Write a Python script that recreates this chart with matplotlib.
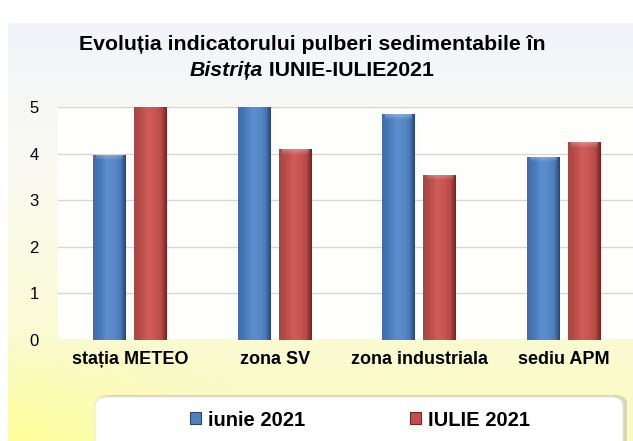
import numpy as np
import matplotlib
matplotlib.use("Agg")
import matplotlib.pyplot as plt
from matplotlib.patches import FancyBboxPatch, Rectangle
from matplotlib.colors import LinearSegmentedColormap, to_rgb

plt.rcParams['font.family'] = ['Liberation Sans', 'DejaVu Sans']

categories = ["stația METEO", "zona SV", "zona industriala", "sediu APM"]
iunie_2021 = [3.98, 5.6, 4.84, 3.93]
iulie_2021 = [5.6, 4.1, 3.55, 4.24]
series_labels = ["iunie 2021", "IULIE 2021"]
y_ticks = [0, 1, 2, 3, 4, 5]

W, H = 633, 441
fig = plt.figure(figsize=(W / 100, H / 100), dpi=100)
fig.patch.set_facecolor("white")

# background panel gradient
bg = fig.add_axes([0, 0, 1, 1], zorder=-10)
bg.set_axis_off()
ny, nx = 200, 300
yy, xx = np.mgrid[0:1:ny * 1j, 0:1:nx * 1j]
top = np.array(to_rgb("#f1f4fa"))
mid = np.array(to_rgb("#fbfbf2"))
yel = np.array(to_rgb("#fafac0"))
yel2 = np.array(to_rgb("#ffff9a"))
t = np.clip((yy - 0.35) / 0.65, 0, 1)
img = (1 - t)[..., None] * ((1 - yy / 0.35).clip(0, 1)[..., None] * top + (yy / 0.35).clip(0, 1)[..., None] * mid) \
      + t[..., None] * yel
w = (np.clip((yy - 0.75) / 0.25, 0, 1) * np.clip(1 - xx / 0.35, 0, 1))[..., None]
img = img * (1 - w) + yel2 * w
bg.imshow(img, extent=[8 / W, 1, 0, 1 - 23 / H], aspect='auto', origin='upper')
bg.set_xlim(0, 1)
bg.set_ylim(0, 1)

# main axes
x0, x1 = 58 / W, 636 / W
y0, y1 = 1 - 340 / H, 1 - 107 / H
ax = fig.add_axes([x0, y0, x1 - x0, y1 - y0])
ax.set_facecolor((1, 1, 1, 0.9))
for s in ax.spines.values():
    s.set_visible(False)
ax.set_ylim(0, 5)
ax.set_xlim(-0.5, len(categories) - 0.5)
ax.set_yticks(y_ticks)
ax.set_yticklabels([str(v) for v in y_ticks], fontsize=12)
ax.tick_params(axis='both', length=0)
ax.tick_params(axis='y', pad=14)
ax.grid(axis='y', color='#d6d6d6', linewidth=1.0)
ax.set_axisbelow(True)
xs = np.arange(len(categories))
ax.set_xticks(xs)
ax.set_xticklabels(categories, fontsize=13, fontweight='bold')
ax.tick_params(axis='x', pad=8)

bw = 0.228
off = 0.143
b1 = ax.bar(xs - off, iunie_2021, width=bw, color="#4f81bd", zorder=2)
b2 = ax.bar(xs + off, iulie_2021, width=bw, color="#c0504d", zorder=2)

blue_cm = LinearSegmentedColormap.from_list("b", ["#416fad", "#5d8ecf", "#5789c8", "#4c7cba", "#2a4670"])
red_cm = LinearSegmentedColormap.from_list("r", ["#ad4643", "#cf5d5a", "#c95552", "#b74a47", "#6e2624"])
grad = np.linspace(0, 1, 64).reshape(1, -1) ** 1.6
lite_cm = LinearSegmentedColormap.from_list("l", [(1, 1, 1, 0.0), (1, 1, 1, 0.3)])
for bars, cm in ((b1, blue_cm), (b2, red_cm)):
    for r in bars:
        bx, by, bwid, bh = r.get_x(), r.get_y(), r.get_width(), r.get_height()
        r.set_facecolor("none")
        im = ax.imshow(grad, cmap=cm, extent=[bx, bx + bwid, by, by + bh],
                       aspect='auto', zorder=2.1, interpolation='bilinear')
        im.set_clip_path(r.get_path(), r.get_transform())
        if bh < 5:
            tv = np.linspace(0, 1, 20).reshape(-1, 1) * np.ones((1, 20))
            ax.imshow(tv, cmap=lite_cm, origin='lower',
                      extent=[bx + bwid * 0.1, bx + bwid * 0.9, by + bh - 0.12, by + bh],
                      aspect='auto', zorder=2.2, interpolation='bilinear')
ax.set_xlim(-0.5, len(categories) - 0.5)
ax.set_ylim(0, 5)

# title
TFS = 15.3
fig.text(312 / W, 1 - 45 / H, "Evoluția indicatorului pulberi sedimentabile în",
         ha='center', va='center', fontsize=TFS, fontweight='bold')
t1 = fig.text(0, 0, "Bistrița", fontsize=TFS, fontweight='bold', style='italic', va='center')
t2 = fig.text(0, 0, " IUNIE-IULIE2021", fontsize=TFS, fontweight='bold', va='center')
fig.canvas.draw()
rr = fig.canvas.get_renderer()
w1 = t1.get_window_extent(rr).width
w2 = t2.get_window_extent(rr).width
start = 312 - (w1 + w2) / 2
t1.set_position((start / W, 1 - 70 / H))
t2.set_position(((start + w1) / W, 1 - 70 / H))

# legend box with shadow
shadow = FancyBboxPatch((97 / W, -0.05), 530 / W, (441 - 395) / H + 0.05,
                        boxstyle="round,pad=0,rounding_size=0.02",
                        transform=fig.transFigure, facecolor=(0.6, 0.6, 0.5, 0.35),
                        edgecolor='none', zorder=5)
box = FancyBboxPatch((95 / W, -0.05), 528 / W, (441 - 397) / H + 0.05,
                     boxstyle="round,pad=0,rounding_size=0.02",
                     transform=fig.transFigure, facecolor='white',
                     edgecolor='#e8e8e0', linewidth=0.8, zorder=6)
fig.patches.extend([shadow, box])

h1 = Rectangle((0, 0), 1, 1, facecolor="#4f81bd", edgecolor="#2a4670", linewidth=0.8)
h2 = Rectangle((0, 0), 1, 1, facecolor="#c0504d", edgecolor="#6e2624", linewidth=0.8)
leg = fig.legend([h1, h2], series_labels, loc='center', bbox_to_anchor=(360 / W, 1 - 420 / H),
                 ncol=2, frameon=False, prop={'weight': 'bold', 'size': 14.5},
                 handlelength=0.55, handleheight=0.55, handletextpad=0.35, columnspacing=5.2)
leg.set_zorder(7)

fig.savefig("out.png", dpi=100, facecolor=fig.get_facecolor())
